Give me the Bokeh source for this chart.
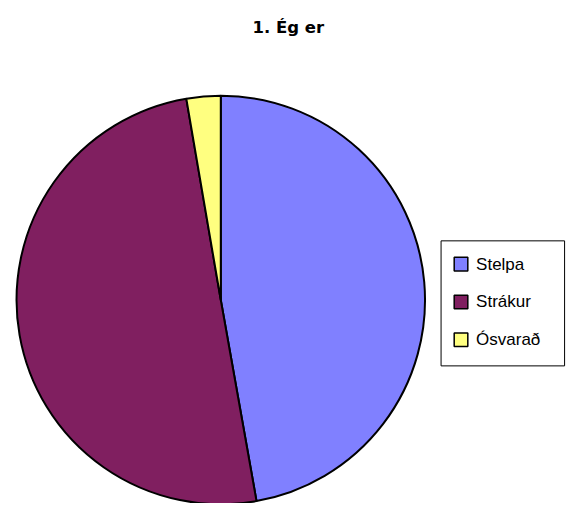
import math
from bokeh.plotting import figure
from bokeh.models import Range1d, ColumnDataSource
from bokeh.core.properties import value
from bokeh.embed import file_html
from bokeh.resources import INLINE

title_text = "1. Ég er"
categories = ["Stelpa", "Strákur", "Ósvarað"]
shares = [47.2, 50.1, 2.7]
colors = ["#8080FF", "#801F60", "#FFFF80"]

W, H = 567, 503
# data coordinates span the whole 583x519 chart area (y measured up from the bottom)
p = figure(width=W, height=H, output_backend="svg", toolbar_location=None,
           x_range=Range1d(0, 583), y_range=Range1d(0, 519),
           min_border=0)
p.axis.visible = False
p.grid.visible = False
p.outline_line_color = None
p.background_fill_color = "white"

total = sum(shares)
starts, ends = [], []
cum = 0.0
for s in shares:
    starts.append(math.pi / 2 - 2 * math.pi * cum / total)
    cum += s
    ends.append(math.pi / 2 - 2 * math.pi * cum / total)

cx, cy, r = 226.5, 519 - 309, 210
src = ColumnDataSource(dict(cat=categories, start=starts, end=ends, color=colors))
p.wedge(x=cx, y=cy, radius=r, start_angle="start", end_angle="end",
        direction="clock", fill_color="color", line_color="black", line_width=2,
        source=src)

# title
p.text(x=[296], y=[519 - 28], text=[title_text], text_font=value("DejaVu Sans"),
       text_font_style="bold", text_font_size="16.5px", text_align="center",
       text_baseline="alphabetic", text_color="black")

# legend
lx0, lx1, ly0, ly1 = 453, 580, 519 - 377, 519 - 248
p.quad(left=[lx0], right=[lx1], bottom=[ly0], top=[ly1], fill_color="white",
       line_color="black", line_width=1)
item_y = [519 - 272, 519 - 311, 519 - 350]
p.rect(x=[473.5] * 3, y=item_y, width=14, height=14, fill_color=colors,
       line_color="black", line_width=1.5)
p.text(x=[489] * 3, y=item_y, text=categories, text_font=value("Liberation Sans"),
       text_font_size="17px", text_baseline="middle", text_align="left",
       text_color="black")

open("out.html", "w").write(file_html(p, INLINE))
